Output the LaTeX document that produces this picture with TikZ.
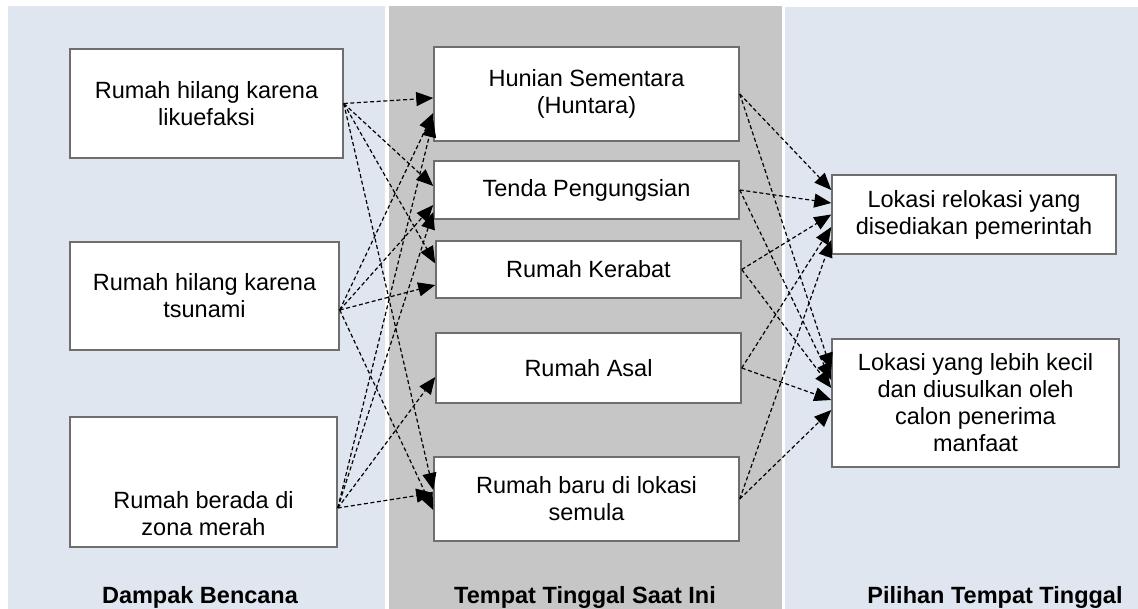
\documentclass[tikz,border=0pt]{standalone}
\usepackage{fontspec}
\setmainfont{Liberation Sans}
\usetikzlibrary{arrows.meta}
\definecolor{panelblue}{RGB}{223,230,240}
\definecolor{panelgray}{RGB}{198,198,198}
\definecolor{boxline}{RGB}{110,110,110}
\tikzset{
  box/.style={draw=boxline,line width=0.75pt,fill=white,align=center,inner sep=0pt},
  link/.style={->,dash pattern=on 2pt off 1.3pt,line width=0.6pt},
  paneltitle/.style={anchor=base,font=\fontsize{11.75}{13.5}\selectfont\bfseries}
}

\begin{document}
\begin{tikzpicture}[x=0.5pt,y=-0.5pt,>={Triangle[length=8.5pt,width=7pt]},font=\fontsize{11.75}{13.5}\selectfont]
				\useasboundingbox (0,0) rectangle (1138,609);
				% panels
				\fill[panelblue] (8,6) rectangle (385,609);
				\fill[panelgray] (389,6) rectangle (782,609);
				\fill[panelblue] (785,7) rectangle (1138,609);
				% Dampak Bencana
				\node[box,minimum width=136.5pt,minimum height=54.5pt] (L1) at (206.5,103.5) {Rumah hilang karena\\likuefaksi};
				\node[box,minimum width=134.5pt,minimum height=54pt] (L2) at (204.5,296) {Rumah hilang karena\\tsunami};
				\node[box,minimum width=133.5pt,minimum height=65pt,label={[align=center,yshift=-16pt]center:{Rumah berada di\\zona merah}}] (L3) at (203.5,482) {};
				% Tempat Tinggal Saat Ini
				\node[box,minimum width=152.5pt,minimum height=47pt] (M1) at (586.5,94) {Hunian Sementara\\(Huntara)};
				\node[box,minimum width=152.5pt,minimum height=29pt] (M2) at (586.5,190) {Tenda Pengungsian};
				\node[box,minimum width=152.5pt,minimum height=28.5pt] (M3) at (588.5,269.5) {Rumah Kerabat};
				\node[box,minimum width=152.5pt,minimum height=35pt] (M4) at (588.5,368) {Rumah Asal};
				\node[box,minimum width=152.5pt,minimum height=42pt] (M5) at (586.5,499) {Rumah baru di lokasi\\semula};
				% Pilihan Tempat Tinggal
				\node[box,minimum width=142pt,minimum height=39.5pt] (R1) at (974,214.5) {Lokasi relokasi yang\\disediakan pemerintah};
				\node[box,minimum width=143.5pt,minimum height=64pt] (R2) at (975.5,403) {Lokasi yang lebih kecil\\dan diusulkan oleh\\calon penerima\\manfaat};
				% titles
				\node[paneltitle] (T1) at (200,603) {Dampak Bencana};
				\node[paneltitle] (T2) at (585,603) {Tempat Tinggal Saat Ini};
				\node[paneltitle] (T3) at (995,603) {Pilihan Tempat Tinggal};
				% left -> middle
				\draw[link] (L1.east) -- ([yshift=-2pt]M1.west);
				\draw[link] (L1.east) -- ([yshift=2pt]M2.west);
				\draw[link] (L1.east) -- ([yshift=3pt]M3.west);
				\draw[link] (L1.east) -- ([yshift=4.5pt]M5.west);
				\draw[link] ([yshift=-7pt]L2.east) -- ([yshift=-9.5pt]M1.west);
				\draw[link] ([yshift=-7pt]L2.east) -- ([yshift=-7.5pt]M2.west);
				\draw[link] ([yshift=-7pt]L2.east) -- ([yshift=-7.75pt]M3.west);
				\draw[link] ([yshift=-7pt]L2.east) -- ([yshift=-5.5pt]M5.west);
				\draw[link] ([yshift=-13pt]L3.east) -- ([yshift=-13pt]M1.west);
				\draw[link] ([yshift=-13pt]L3.east) -- ([yshift=-11pt]M2.west);
				\draw[link] ([yshift=-13pt]L3.east) -- ([yshift=-4.5pt]M4.west);
				\draw[link] ([yshift=-13pt]L3.east) -- ([yshift=3pt]M5.west);
				% middle -> right
				\draw[link] (M1.east) -- ([yshift=12.25pt]R1.west);
				\draw[link] (M2.east) -- ([yshift=5.75pt]R1.west);
				\draw[link] (M3.east) -- (R1.west);
				\draw[link] (M4.east) -- ([yshift=-6.25pt]R1.west);
				\draw[link] (M5.east) -- ([yshift=-12.75pt]R1.west);
				\draw[link] (M1.east) -- ([yshift=16.5pt]R2.west);
				\draw[link] (M2.east) -- ([yshift=11.5pt]R2.west);
				\draw[link] (M3.east) -- ([yshift=7.5pt]R2.west);
				\draw[link] (M4.east) -- ([yshift=1.5pt]R2.west);
				\draw[link] (M5.east) -- ([yshift=-3.5pt]R2.west);
\end{tikzpicture}
\end{document}
